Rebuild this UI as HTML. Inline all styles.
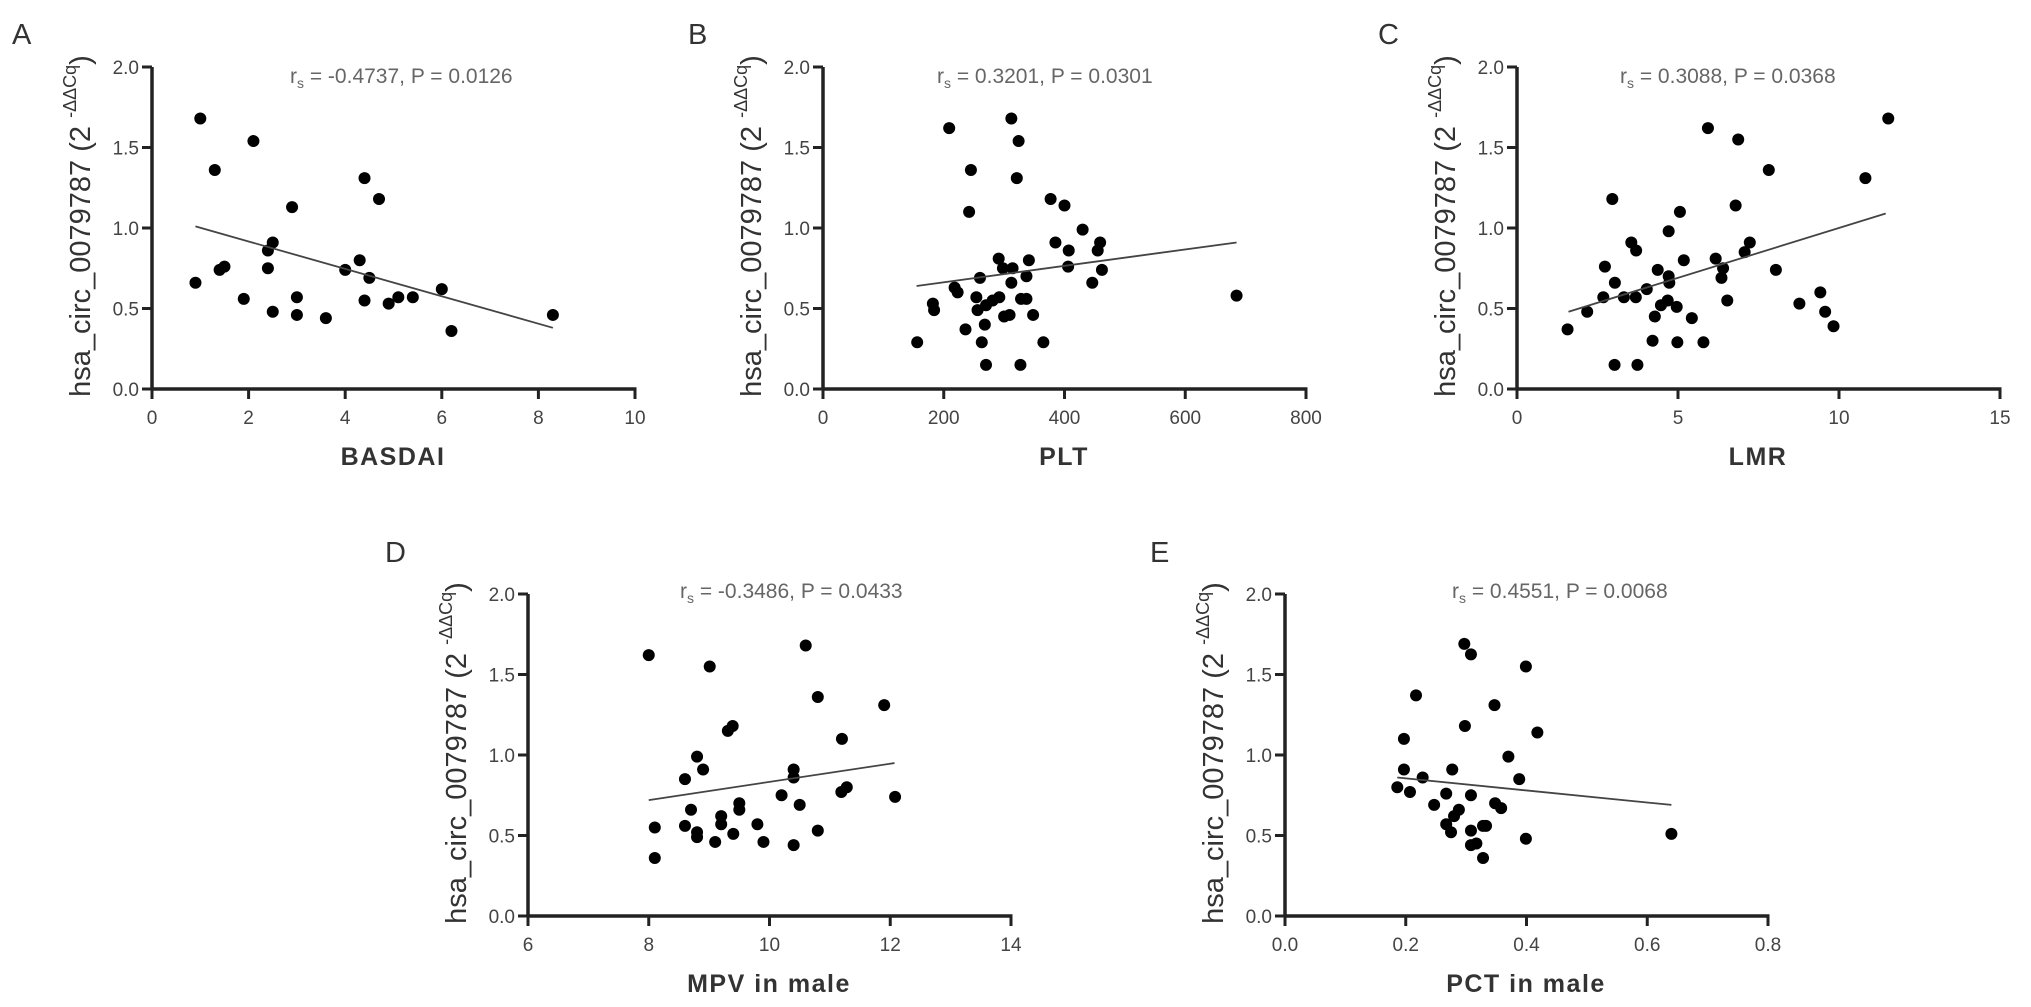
<!DOCTYPE html>
<html><head><meta charset="utf-8">
<style>
html,body{margin:0;padding:0;background:#fff;}
svg{display:block;font-family:"Liberation Sans",Arial,sans-serif;}
</style></head>
<body>
<svg id="fig" width="2031" height="1007" viewBox="0 0 2031 1007" xmlns="http://www.w3.org/2000/svg"></svg>
<script>
// ---------- data ----------
const aX = [1.0,2.1,1.3,4.4,4.7,2.9,2.5,2.4,4.3,1.4,1.5,2.4,4.0,4.5,0.9,6.0,1.9,3.0,4.4,4.9,5.1,5.4,2.5,3.0,3.6,6.2,8.3];
const aY = [1.68,1.54,1.36,1.31,1.18,1.13,0.91,0.86,0.80,0.74,0.76,0.75,0.74,0.69,0.66,0.62,0.56,0.57,0.55,0.53,0.57,0.57,0.48,0.46,0.44,0.36,0.46];
const aFit = [[0.9,1.01],[8.3,0.38]];

const bX = [209,312,324,245,321,242,377,400,430,385,459,455,407,291,341,314,298,406,462,260,337,312,446,218,223,254,292,281,270,328,337,182,184,256,300,309,348,236,268,156,263,365,270,327,685];
const bY = [1.62,1.68,1.54,1.36,1.31,1.10,1.18,1.14,0.99,0.91,0.91,0.86,0.86,0.81,0.80,0.75,0.75,0.76,0.74,0.69,0.70,0.66,0.66,0.63,0.60,0.57,0.57,0.55,0.52,0.56,0.56,0.53,0.49,0.49,0.45,0.46,0.46,0.37,0.40,0.29,0.29,0.29,0.15,0.15,0.58];
const bFit = [[155,0.64],[685,0.91]];

const cX = [11.53,5.93,6.87,7.82,10.82,2.96,6.79,5.06,4.71,3.55,3.70,7.23,7.07,5.18,6.17,2.73,4.37,6.40,8.04,4.71,6.35,3.04,4.73,4.03,2.68,3.32,3.69,9.42,4.68,4.47,4.96,6.53,8.77,9.57,2.18,4.28,5.43,9.83,1.57,4.21,4.98,5.79,3.03,3.74];
const cY = [1.68,1.62,1.55,1.36,1.31,1.18,1.14,1.10,0.98,0.91,0.86,0.91,0.85,0.80,0.81,0.76,0.74,0.75,0.74,0.70,0.69,0.66,0.66,0.62,0.57,0.57,0.57,0.60,0.55,0.52,0.51,0.55,0.53,0.48,0.48,0.45,0.44,0.39,0.37,0.30,0.29,0.29,0.15,0.15];
const cFit = [[1.6,0.48],[11.45,1.09]];

const dX = [8.0,9.01,10.6,10.8,11.9,9.31,9.39,11.2,8.8,8.9,8.6,10.4,10.4,11.19,11.28,12.08,10.2,10.5,8.7,9.5,9.5,9.2,8.1,8.6,8.8,8.8,9.2,9.4,9.8,9.1,9.9,10.4,10.8,8.1];
const dY = [1.62,1.55,1.68,1.36,1.31,1.15,1.18,1.10,0.99,0.91,0.85,0.91,0.86,0.77,0.80,0.74,0.75,0.69,0.66,0.70,0.66,0.62,0.55,0.56,0.52,0.49,0.57,0.51,0.57,0.46,0.46,0.44,0.53,0.36];
const dFit = [[8.0,0.72],[12.07,0.95]];

const eX = [0.297,0.308,0.399,0.217,0.347,0.298,0.418,0.197,0.37,0.197,0.277,0.228,0.388,0.186,0.207,0.267,0.308,0.247,0.348,0.358,0.288,0.28,0.267,0.275,0.333,0.328,0.308,0.308,0.317,0.399,0.64,0.328];
const eY = [1.69,1.625,1.55,1.37,1.31,1.18,1.14,1.10,0.99,0.91,0.91,0.86,0.85,0.80,0.77,0.76,0.75,0.69,0.70,0.67,0.66,0.62,0.57,0.52,0.56,0.56,0.53,0.44,0.45,0.48,0.51,0.36];
const eFit = [[0.186,0.86],[0.64,0.69]];

const yTicks = [0.0,0.5,1.0,1.5,2.0];
const yTickLabels = ["0.0","0.5","1.0","1.5","2.0"];
const aTicks = [0,2,4,6,8,10];
const bTicks = [0,200,400,600,800];
const cTicks = [0,5,10,15];
const dTicks = [6,8,10,12,14];
const eTicks = [0.0,0.2,0.4,0.6,0.8];
const eTickLabels = ["0.0","0.2","0.4","0.6","0.8"];

// ---------- drawing ----------
const NS = "http://www.w3.org/2000/svg";
const svg = document.getElementById('fig');
function mk(tag, attrs, parent){
  const e = document.createElementNS(NS, tag);
  for (const k in attrs) e.setAttribute(k, attrs[k]);
  (parent||svg).appendChild(e);
  return e;
}

function panel(cfg){
  const g = mk('g', {});
  
  
  const x0 = cfg.ax, yB = cfg.ay, W = 483, H = 322;
  const xmin = cfg.xTicks[0], xmax = cfg.xTicks[cfg.xTicks.length-1];
  const sx = v => x0 + (v - xmin) / (xmax - xmin) * W;
  const sy = v => yB - v / 2.0 * H;

  // panel letter
  const L = mk('text', {x: cfg.lx, y: cfg.ly, 'font-size': 29, fill: '#333'}, g);
  L.textContent = cfg.letter;
  
  

  // y title
  const yt = mk('text', {transform: `translate(${x0-62},${yB-163}) rotate(-90)`, 'text-anchor': 'middle', 'font-size': 29, fill: '#333'}, g);
  
  
  const t1 = mk('tspan', {}, yt); t1.textContent = 'hsa_circ_0079787 (2 ';
  const t2 = mk('tspan', {'font-size': 18, dy: -14}, yt); t2.textContent = '-\u0394\u0394Cq';
  const t3 = mk('tspan', {dy: 14}, yt); t3.textContent = ')';

  // axes
  const ya = mk('line', {x1: x0, y1: sy(2.0), x2: x0, y2: yB+1.5, stroke: '#222', 'stroke-width': 3.5}, g);
  
  
  const xa = mk('line', {x1: x0-1.5, y1: yB, x2: x0+W+1.5, y2: yB, stroke: '#222', 'stroke-width': 3.5}, g);
  
  

  yTicks.forEach((v,i) => {
    mk('line', {x1: x0-10, y1: sy(v), x2: x0, y2: sy(v), stroke: '#222', 'stroke-width': 3}, g);
    const t = mk('text', {x: x0-13, y: sy(v)+7, 'text-anchor': 'end', 'font-size': 19, fill: '#444'}, g);
    t.textContent = yTickLabels[i];
    
    
  });
  cfg.xTicks.forEach((v,i) => {
    mk('line', {x1: sx(v), y1: yB, x2: sx(v), y2: yB+10, stroke: '#222', 'stroke-width': 3}, g);
    const t = mk('text', {x: sx(v), y: yB+35, 'text-anchor': 'middle', 'font-size': 19, fill: '#444'}, g);
    t.textContent = cfg.xLabels ? cfg.xLabels[i] : String(v);
    
    
  });

  // x title
  const xt = mk('text', {x: x0+241, y: yB+76, 'text-anchor': 'middle', 'font-size': 25, 'font-weight': 'bold', fill: '#333', 'letter-spacing': 1.5}, g);
  xt.textContent = cfg.xTitle;
  
  

  // annotation
  const an = mk('text', {x: cfg.annX, y: cfg.annY, 'font-size': 21, fill: '#666'}, g);
  
  
  const a1 = mk('tspan', {}, an); a1.textContent = 'r';
  const a2 = mk('tspan', {'font-size': 14, dy: 5}, an); a2.textContent = 's';
  const a3 = mk('tspan', {dy: -5}, an); a3.textContent = ' = ' + cfg.ann;

  // points
  cfg.xs.forEach((v,i) => {
    const c = mk('circle', {cx: sx(v), cy: sy(cfg.ys[i]), r: 6, fill: '#000'}, g);
    
    
  });
  // fit line
  const f = mk('line', {x1: sx(cfg.fit[0][0]), y1: sy(cfg.fit[0][1]), x2: sx(cfg.fit[1][0]), y2: sy(cfg.fit[1][1]), stroke: '#444', 'stroke-width': 1.8}, g);
  
  
}

panel({letter:'A', lx:12, ly:44, ax:152, ay:389, xTicks:aTicks, xTitle:'BASDAI', xs:aX, ys:aY, fit:aFit, ann:'-0.4737, P = 0.0126', annX:290, annY:83});
panel({letter:'B', lx:688, ly:44, ax:823, ay:389, xTicks:bTicks, xTitle:'PLT', xs:bX, ys:bY, fit:bFit, ann:'0.3201, P = 0.0301', annX:937, annY:83});
panel({letter:'C', lx:1378, ly:44, ax:1517, ay:389, xTicks:cTicks, xTitle:'LMR', xs:cX, ys:cY, fit:cFit, ann:'0.3088, P = 0.0368', annX:1620, annY:83});
panel({letter:'D', lx:385, ly:562, ax:528, ay:916, xTicks:dTicks, xTitle:'MPV in male', xs:dX, ys:dY, fit:dFit, ann:'-0.3486, P = 0.0433', annX:680, annY:598});
panel({letter:'E', lx:1150, ly:562, ax:1285, ay:916, xTicks:eTicks, xLabels:eTickLabels, xTitle:'PCT in male', xs:eX, ys:eY, fit:eFit, ann:'0.4551, P = 0.0068', annX:1452, annY:598});
</script>
</body></html>
